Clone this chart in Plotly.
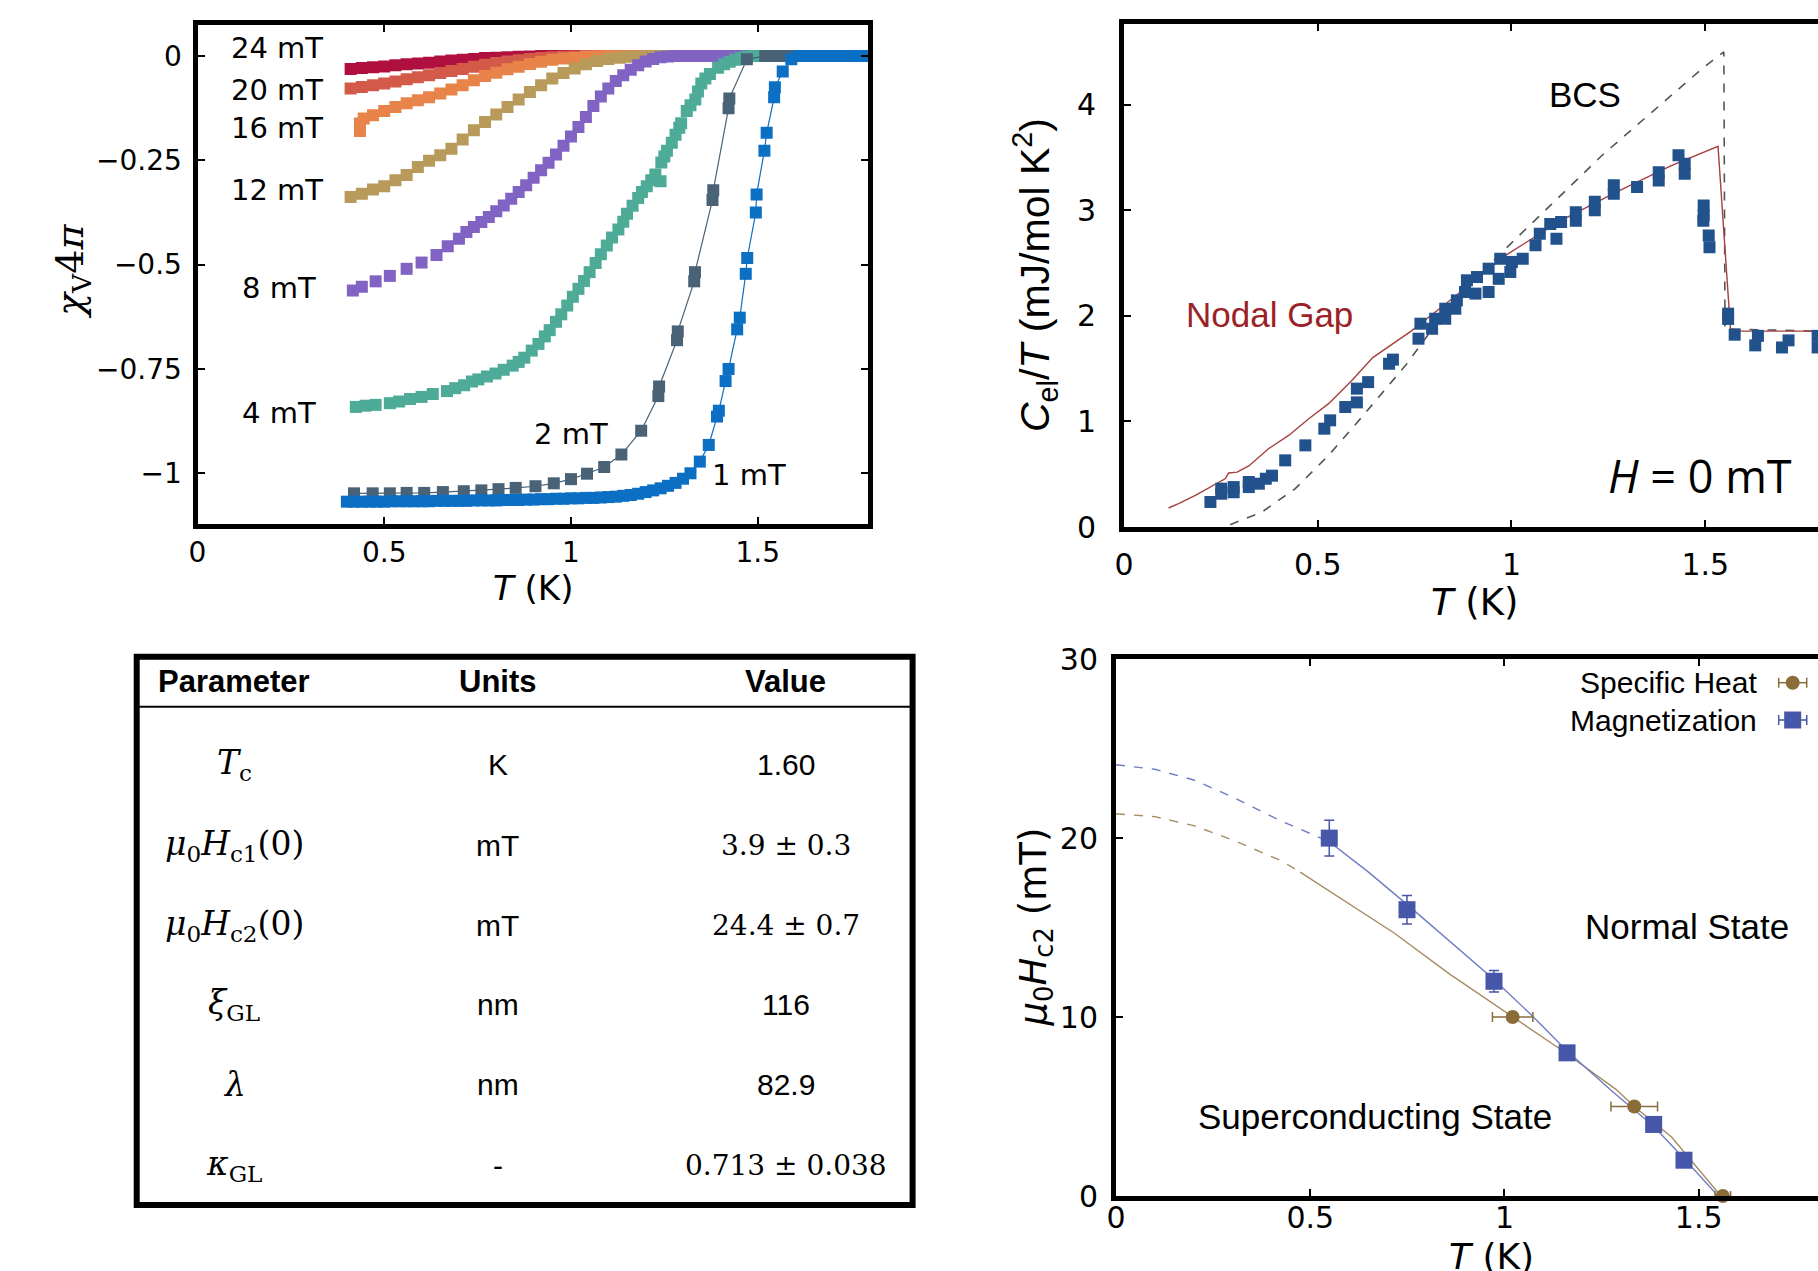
import plotly.graph_objects as go

W, H = 1818, 1271
SANS = "Liberation Sans, Arial, sans-serif"
DEJA = "DejaVu Sans, sans-serif"
SERIF = "DejaVu Serif, serif"


def fx(p):
    """horizontal pixel -> paper fraction"""
    return p / W


def fy(p):
    """vertical pixel (from top) -> paper fraction"""
    return 1 - p / H


# ---------------- (a) volume susceptibility chi_V*4pi vs T ----------------
T_GRID = [0.41, 0.44, 0.47, 0.50, 0.53, 0.56, 0.59, 0.62, 0.65, 0.68, 0.71, 0.74,
          0.77, 0.80, 0.83, 0.86, 0.89, 0.92, 0.95, 0.98, 1.01, 1.04, 1.07, 1.10,
          1.13, 1.16, 1.19, 1.22, 1.25, 1.28, 1.31, 1.34, 1.37, 1.40, 1.43, 1.46,
          1.49, 1.52, 1.55, 1.58, 1.61, 1.64, 1.67, 1.70, 1.73, 1.76, 1.79]

CHI_24 = [-0.031, -0.029, -0.027, -0.025, -0.022, -0.020, -0.018, -0.016, -0.013,
          -0.011, -0.009, -0.007, -0.005, -0.004, -0.003, -0.002, -0.001,
          0.0, 0.0, 0.0, 0.0, 0.0, 0.0, 0.0, 0.0, 0.0, 0.0, 0.0, 0.0, 0.0, 0.0,
          0.0, 0.0, 0.0, 0.0, 0.0, 0.0, 0.0, 0.0, 0.0, 0.0, 0.0, 0.0, 0.0, 0.0,
          0.0, 0.0]

CHI_20 = [-0.078, -0.074, -0.070, -0.066, -0.061, -0.056, -0.051, -0.046, -0.041,
          -0.036, -0.031, -0.026, -0.021, -0.017, -0.013, -0.010, -0.007, -0.005,
          -0.003, -0.002, -0.001,
          0.0, 0.0, 0.0, 0.0, 0.0, 0.0, 0.0, 0.0, 0.0, 0.0, 0.0, 0.0, 0.0, 0.0,
          0.0, 0.0, 0.0, 0.0, 0.0, 0.0, 0.0, 0.0, 0.0, 0.0, 0.0, 0.0]

T_16 = [0.435, 0.435, 0.445, 0.47, 0.50, 0.53, 0.56, 0.59, 0.62, 0.65, 0.68, 0.71,
        0.74, 0.77, 0.80, 0.83, 0.86, 0.89, 0.92, 0.95, 0.98, 1.01, 1.04, 1.07,
        1.10, 1.13, 1.16, 1.19, 1.22, 1.25, 1.28, 1.31, 1.34, 1.37, 1.40, 1.43,
        1.46, 1.49, 1.52, 1.55, 1.58, 1.61, 1.64, 1.67, 1.70, 1.73, 1.76, 1.79]
CHI_16 = [-0.180, -0.162, -0.150, -0.142, -0.132, -0.122, -0.113, -0.106, -0.099,
          -0.090, -0.080, -0.070, -0.058, -0.048, -0.040, -0.032, -0.026, -0.019,
          -0.014, -0.009, -0.006, -0.004, -0.002, -0.001,
          0.0, 0.0, 0.0, 0.0, 0.0, 0.0, 0.0, 0.0, 0.0, 0.0, 0.0, 0.0, 0.0, 0.0,
          0.0, 0.0, 0.0, 0.0, 0.0, 0.0, 0.0, 0.0, 0.0, 0.0]

CHI_12 = [-0.338, -0.330, -0.320, -0.312, -0.298, -0.285, -0.266, -0.251, -0.238,
          -0.222, -0.200, -0.178, -0.158, -0.140, -0.122, -0.104, -0.086, -0.070,
          -0.054, -0.041, -0.030, -0.020, -0.012, -0.007, -0.004, -0.002, -0.001,
          0.0, 0.0, 0.0, 0.0, 0.0, 0.0, 0.0, 0.0, 0.0, 0.0, 0.0, 0.0, 0.0, 0.0,
          0.0, 0.0, 0.0, 0.0, 0.0, 0.0]

T_8 = [0.416, 0.44, 0.477, 0.515, 0.56, 0.60, 0.64, 0.67, 0.70, 0.72, 0.74, 0.76,
       0.78, 0.80, 0.82, 0.84, 0.86, 0.88, 0.90, 0.92, 0.94, 0.96, 0.98, 1.00,
       1.02, 1.04, 1.06, 1.08, 1.10, 1.12, 1.14, 1.16, 1.18, 1.20, 1.22, 1.24,
       1.26, 1.28, 1.31, 1.34, 1.37, 1.40, 1.43, 1.46, 1.49, 1.52, 1.55, 1.58,
       1.61, 1.64, 1.67, 1.70, 1.73, 1.76, 1.79]
CHI_8 = [-0.562, -0.553, -0.540, -0.527, -0.510, -0.495, -0.477, -0.456, -0.438,
         -0.422, -0.410, -0.398, -0.386, -0.372, -0.358, -0.342, -0.326, -0.310,
         -0.292, -0.274, -0.256, -0.236, -0.215, -0.193, -0.170, -0.146, -0.120,
         -0.097, -0.078, -0.060, -0.046, -0.033, -0.022, -0.013, -0.007, -0.003,
         -0.001, 0.0,
         0.0, 0.0, 0.0, 0.0, 0.0, 0.0, 0.0, 0.0, 0.0, 0.0, 0.0, 0.0, 0.0, 0.0,
         0.0, 0.0, 0.0]

T_4 = [0.424, 0.45, 0.477, 0.515, 0.54, 0.569, 0.60, 0.63, 0.668, 0.69, 0.714,
       0.735, 0.752, 0.775, 0.798, 0.82, 0.844, 0.86, 0.875, 0.895, 0.913, 0.93,
       0.943, 0.96, 0.974, 0.99, 1.005, 1.02, 1.035, 1.05, 1.066, 1.08, 1.096,
       1.11, 1.127, 1.14, 1.15, 1.165, 1.18, 1.19, 1.203, 1.215, 1.226, 1.24,
       1.242, 1.25, 1.257, 1.27, 1.28, 1.29, 1.295, 1.31, 1.32, 1.333, 1.34,
       1.349, 1.36, 1.372, 1.394, 1.41, 1.425, 1.44, 1.456, 1.47, 1.486, 1.51,
       1.54, 1.57, 1.60, 1.63, 1.66, 1.69, 1.72, 1.75, 1.78]
CHI_4 = [-0.841, -0.838, -0.836, -0.832, -0.828, -0.822, -0.817, -0.810, -0.803,
         -0.796, -0.789, -0.780, -0.775, -0.768, -0.761, -0.752, -0.742, -0.733,
         -0.723, -0.706, -0.690, -0.672, -0.657, -0.637, -0.619, -0.598, -0.577,
         -0.558, -0.539, -0.518, -0.496, -0.475, -0.454, -0.435, -0.416, -0.397,
         -0.378, -0.359, -0.340, -0.326, -0.312, -0.298, -0.284, -0.300, -0.255,
         -0.241, -0.227, -0.208, -0.189, -0.172, -0.161, -0.132, -0.118, -0.104,
         -0.085, -0.066, -0.054, -0.043, -0.028, -0.020, -0.014, -0.009, -0.005,
         -0.002, 0.0, 0.0, 0.0, 0.0, 0.0, 0.0, 0.0, 0.0, 0.0, 0.0, 0.0]

T_2 = [0.419, 0.469, 0.515, 0.56, 0.607, 0.657, 0.713, 0.760, 0.806, 0.852, 0.905,
       0.954, 1.000, 1.043, 1.089, 1.135, 1.188, 1.234, 1.236, 1.284, 1.286, 1.330,
       1.332, 1.379, 1.381, 1.422, 1.424, 1.471, 1.52, 1.55, 1.58, 1.61, 1.64,
       1.67, 1.70, 1.73, 1.76, 1.79]
CHI_2 = [-1.048, -1.048, -1.048, -1.047, -1.047, -1.045, -1.043, -1.041, -1.038,
         -1.035, -1.031, -1.024, -1.014, -1.001, -0.985, -0.955, -0.898, -0.815,
         -0.792, -0.681, -0.660, -0.540, -0.518, -0.345, -0.322, -0.125, -0.102,
         -0.008, 0.0, 0.0, 0.0, 0.0, 0.0, 0.0, 0.0, 0.0, 0.0, 0.0]

T_1 = [0.40, 0.42, 0.44, 0.46, 0.48, 0.50, 0.52, 0.54, 0.56, 0.58, 0.60, 0.62,
       0.64, 0.66, 0.68, 0.70, 0.72, 0.74, 0.76, 0.78, 0.80, 0.82, 0.84, 0.86,
       0.88, 0.90, 0.92, 0.94, 0.96, 0.98, 1.00, 1.02, 1.04, 1.06, 1.08, 1.10,
       1.12, 1.14, 1.16, 1.18, 1.20, 1.22, 1.24, 1.26, 1.28, 1.30, 1.32, 1.345,
       1.369, 1.391, 1.396, 1.414, 1.422, 1.445, 1.452, 1.468, 1.472, 1.495,
       1.497, 1.518, 1.524, 1.544, 1.546, 1.567, 1.59, 1.61, 1.64, 1.67, 1.70,
       1.73, 1.76, 1.79, 1.80]
CHI_1 = [-1.068, -1.068, -1.068, -1.068, -1.068, -1.068, -1.067, -1.067, -1.067,
         -1.067, -1.067, -1.067, -1.066, -1.066, -1.066, -1.066, -1.066, -1.065,
         -1.065, -1.065, -1.065, -1.064, -1.064, -1.064, -1.063, -1.063, -1.062,
         -1.062, -1.061, -1.061, -1.060, -1.060, -1.059, -1.059, -1.058, -1.057,
         -1.056, -1.054, -1.052, -1.049, -1.045, -1.041, -1.036, -1.030, -1.023,
         -1.013, -1.000, -0.972, -0.932, -0.864, -0.850, -0.779, -0.750, -0.655,
         -0.627, -0.522, -0.484, -0.375, -0.332, -0.227, -0.184, -0.099, -0.075,
         -0.037, -0.008, 0.0, 0.0, 0.0, 0.0, 0.0, 0.0, 0.0, 0.0]

FIELD_LABELS = ["24 mT", "20 mT", "16 mT", "12 mT", "8 mT", "4 mT", "2 mT", "1 mT"]
FIELD_COLORS = ["#b0103f", "#d35a49", "#e8834a", "#b89a5a", "#8063c3", "#4dab98",
                "#4a6276", "#0b6fc4"]

A_XTICKS = [0, 0.5, 1, 1.5]
A_XTEXT = ["0", "0.5", "1", "1.5"]
A_YTICKS = [0, -0.25, -0.5, -0.75, -1]
A_YTEXT = ["0", "\u22120.25", "\u22120.5", "\u22120.75", "\u22121"]

# ---------------- (b) electronic specific heat C_el/T ----------------
CT_T = [0.223, 0.251, 0.251, 0.283, 0.283, 0.322, 0.322, 0.348, 0.366, 0.382,
        0.416, 0.468, 0.517, 0.532, 0.571, 0.601, 0.601, 0.63, 0.684, 0.694,
        0.76, 0.765, 0.795, 0.803, 0.829, 0.829, 0.855, 0.859, 0.88, 0.885,
        0.907, 0.911, 0.941, 0.941, 0.967, 0.971, 0.997, 1.001, 1.029, 1.062,
        1.073, 1.10, 1.116, 1.128, 1.166, 1.166, 1.215, 1.215, 1.264, 1.264,
        1.324, 1.38, 1.38, 1.431, 1.447, 1.447, 1.496, 1.496, 1.495, 1.509,
        1.511, 1.559, 1.559, 1.576, 1.629, 1.636, 1.698, 1.715, 1.79, 1.79]
CT_C = [0.237, 0.315, 0.363, 0.329, 0.378, 0.378, 0.426, 0.410, 0.457, 0.486,
        0.631, 0.773, 0.931, 1.010, 1.136, 1.180, 1.310, 1.372, 1.546, 1.585,
        1.783, 1.925, 1.877, 1.972, 1.972, 2.067, 2.067, 2.146, 2.225, 2.336,
        2.210, 2.367, 2.225, 2.446, 2.350, 2.540, 2.415, 2.510, 2.540, 2.667,
        2.777, 2.870, 2.730, 2.888, 2.900, 2.980, 3.000, 3.080, 3.156, 3.235,
        3.220, 3.280, 3.360, 3.519, 3.440, 3.346, 3.045, 2.950, 2.900, 2.761,
        2.650, 2.020, 1.970, 1.821, 1.720, 1.810, 1.700, 1.767, 1.810, 1.700]

NODAL_T = [0.115, 0.141, 0.184, 0.227, 0.261, 0.270, 0.292, 0.322, 0.373, 0.425,
           0.477, 0.528, 0.588, 0.642, 0.741, 0.841, 0.984, 1.126, 1.269, 1.411,
           1.533, 1.565, 1.580, 1.796]
NODAL_C = [0.180, 0.221, 0.300, 0.388, 0.457, 0.511, 0.520, 0.578, 0.741, 0.867,
           1.025, 1.168, 1.388, 1.604, 1.855, 2.145, 2.570, 2.899, 3.169, 3.420,
           3.604, 1.877, 1.855, 1.855]

BCS_T = [0.274, 0.356, 0.442, 0.528, 0.614, 0.730, 0.841, 0.975, 1.234, 1.492,
         1.548, 1.551, 1.796]
BCS_C = [0.022, 0.142, 0.363, 0.678, 1.042, 1.546, 2.100, 2.600, 3.520, 4.340,
         4.498, 1.875, 1.855]

B_XTICKS = [0, 0.5, 1, 1.5]
B_XTEXT = ["0", "0.5", "1", "1.5"]
B_YTICKS = [0, 1, 2, 3, 4]
B_YTEXT = ["0", "1", "2", "3", "4"]

# ---------------- (d) upper critical field ----------------
MAG_T = [0.549, 0.749, 0.973, 1.161, 1.384, 1.462]
MAG_H = [20.0, 16.0, 12.0, 8.0, 4.0, 2.0]
MAG_ERR = [1.0, 0.8, 0.6, 0.3, 0.25, 0.2]

SH_T = [1.021, 1.334, 1.562]
SH_H = [10.0, 5.0, 0.0]
SH_TERR = [0.052, 0.06, 0.02]

MAG_FIT_DASH_T = [0.0, 0.1, 0.2, 0.3, 0.425, 0.549]
MAG_FIT_DASH_H = [24.1, 23.85, 23.25, 22.3, 20.96, 19.8]
MAG_FIT_T = [0.549, 0.65, 0.749, 0.86, 0.973, 1.07, 1.161, 1.28, 1.384, 1.462, 1.55]
MAG_FIT_H = [19.8, 18.1, 16.3, 14.2, 12.1, 10.1, 8.1, 5.8, 3.9, 2.1, 0.0]

SH_FIT_DASH_T = [0.0, 0.1, 0.2, 0.3, 0.425, 0.474]
SH_FIT_DASH_H = [21.36, 21.2, 20.7, 19.9, 18.74, 18.1]
SH_FIT_T = [0.474, 0.573, 0.716, 0.859, 1.0, 1.144, 1.287, 1.334, 1.43, 1.557]
SH_FIT_H = [18.1, 16.7, 14.7, 12.4, 10.3, 8.2, 5.96, 5.0, 3.3, 0.0]

D_XTICKS = [0, 0.5, 1, 1.5]
D_XTEXT = ["0", "0.5", "1", "1.5"]
D_YTICKS = [0, 10, 20, 30]
D_YTEXT = ["0", "10", "20", "30"]

# ---------------- (c) parameter table ----------------
TABLE_HEADER = ["Parameter", "Units", "Value"]
PARAMS = ["<i>T</i><sub>c</sub>",
          "<i>μ</i><sub>0</sub><i>H</i><sub>c1</sub>(0)",
          "<i>μ</i><sub>0</sub><i>H</i><sub>c2</sub>(0)",
          "<i>ξ</i><sub>GL</sub>",
          "<i>λ</i>",
          "<i>κ</i><sub>GL</sub>"]
UNITS = ["K", "mT", "mT", "nm", "nm", "-"]
VALUES = ["1.60", "3.9 ± 0.3", "24.4 ± 0.7", "116", "82.9", "0.713 ± 0.038"]
VALUE_IS_MATH = [False, True, True, False, False, True]

C_MAG = "#4656a8"
C_SH = "#8a6d38"
C_MAG_LINE = "#6e7cc4"
C_SH_LINE = "#a58c62"

fig = go.Figure()

# panel (a): highest field first so the low-field curves sit on top
fields = [
    (T_GRID, CHI_24), (T_GRID, CHI_20), (T_16, CHI_16), (T_GRID, CHI_12),
    (T_8, CHI_8), (T_4, CHI_4), (T_2, CHI_2), (T_1, CHI_1),
]
for i, (tt, cc) in enumerate(fields):
    with_line = FIELD_LABELS[i] in ("2 mT", "1 mT")
    fig.add_trace(go.Scatter(
        x=tt, y=cc, xaxis="x", yaxis="y",
        mode="lines+markers" if with_line else "markers",
        line=dict(color=FIELD_COLORS[i], width=1.2),
        marker=dict(symbol="square", size=12, color=FIELD_COLORS[i]),
        name=FIELD_LABELS[i], showlegend=False,
    ))

# panel (b)
fig.add_trace(go.Scatter(x=BCS_T, y=BCS_C, xaxis="x2", yaxis="y2", mode="lines",
                         line=dict(color="#555555", width=1.6, dash="dash"),
                         showlegend=False))
fig.add_trace(go.Scatter(x=NODAL_T, y=NODAL_C, xaxis="x2", yaxis="y2", mode="lines",
                         line=dict(color="#a5403f", width=1.4), showlegend=False))
fig.add_trace(go.Scatter(x=CT_T, y=CT_C, xaxis="x2", yaxis="y2", mode="markers",
                         marker=dict(symbol="square", size=12, color="#22528c"),
                         showlegend=False))

# panel (d)
fig.add_trace(go.Scatter(x=SH_FIT_DASH_T, y=SH_FIT_DASH_H, xaxis="x3", yaxis="y3",
                         mode="lines", line=dict(color=C_SH_LINE, width=1.4, dash="dash"),
                         showlegend=False))
fig.add_trace(go.Scatter(x=SH_FIT_T, y=SH_FIT_H, xaxis="x3", yaxis="y3",
                         mode="lines", line=dict(color=C_SH_LINE, width=1.4),
                         showlegend=False))
fig.add_trace(go.Scatter(x=MAG_FIT_DASH_T, y=MAG_FIT_DASH_H, xaxis="x3", yaxis="y3",
                         mode="lines", line=dict(color=C_MAG_LINE, width=1.4, dash="dash"),
                         showlegend=False))
fig.add_trace(go.Scatter(x=MAG_FIT_T, y=MAG_FIT_H, xaxis="x3", yaxis="y3",
                         mode="lines", line=dict(color=C_MAG_LINE, width=1.4),
                         showlegend=False))
fig.add_trace(go.Scatter(x=SH_T, y=SH_H, xaxis="x3", yaxis="y3", mode="markers",
                         marker=dict(symbol="circle", size=14, color=C_SH),
                         error_x=dict(type="data", array=SH_TERR, color=C_SH,
                                      thickness=1.5, width=5),
                         cliponaxis=False, showlegend=False))
fig.add_trace(go.Scatter(x=MAG_T, y=MAG_H, xaxis="x3", yaxis="y3", mode="markers",
                         marker=dict(symbol="square", size=17, color=C_MAG),
                         error_y=dict(type="data", array=MAG_ERR, color=C_MAG,
                                      thickness=1.5, width=5),
                         cliponaxis=False, showlegend=False))


def axis(domain, rng, tickvals, ticktext, size, standoff, mirror, anchor):
    return dict(domain=domain, range=rng, anchor=anchor, tickmode="array",
                tickvals=tickvals, ticktext=ticktext, showline=True,
                linecolor="black", linewidth=5, mirror=mirror, ticks="inside",
                ticklen=7, tickwidth=1.5, tickcolor="black", showgrid=False,
                zeroline=False, ticklabelstandoff=standoff, automargin=False,
                tickfont=dict(family=DEJA, size=size, color="black"))


layout = dict(
    template="none",
    width=W, height=H, margin=dict(l=0, r=0, t=0, b=0, pad=0, autoexpand=False),
    paper_bgcolor="white", plot_bgcolor="white", showlegend=False,
    xaxis=axis([fx(197.5), fx(867.5)], [0, 1.794], A_XTICKS, A_XTEXT, 28, -1,
               "allticks", "y"),
    yaxis=axis([fy(524.2), fy(24.5)], [-1.122, 0.0755], A_YTICKS, A_YTEXT, 28, 5,
               "allticks", "x"),
    xaxis2=axis([fx(1124), 1.0], [0, 1.791], B_XTICKS, B_XTEXT, 30, 7,
                "allticks", "y2"),
    yaxis2=axis([fy(527), fy(24.2)], [0, 4.761], B_YTICKS, B_YTEXT, 30, 17,
                True, "x2"),
    xaxis3=axis([fx(1116), 1.0], [0, 1.807], D_XTICKS, D_XTEXT, 30, -9,
                "allticks", "y3"),
    yaxis3=axis([fy(1196), fy(659.2)], [0, 30], D_YTICKS, D_YTEXT, 30, 7,
                True, "x3"),
)
fig.update_layout(**layout)


def label(text, x, y, size, family=SANS, color="black", xanchor="center", angle=0):
    return dict(text=text, x=fx(x), y=fy(y), xref="paper", yref="paper",
                showarrow=False, xanchor=xanchor, yanchor="middle",
                textangle=angle, font=dict(family=family, size=size, color=color))


ann = []
# panel (a) field labels
for txt, x, y, anchor in [
    ("24 mT", 325, 47.7, "right"), ("20 mT", 325, 90, "right"),
    ("16 mT", 325, 127.7, "right"), ("12 mT", 325, 190, "right"),
    ("8 mT", 318, 288, "right"), ("4 mT", 318, 412.7, "right"),
    ("2 mT", 570.5, 434.5, "center"), ("1 mT", 749, 475, "center"),
]:
    ann.append(label(txt, x, y, 29, DEJA, xanchor=anchor))
ann.append(label("<i>T</i> (K)", 533, 588, 34, DEJA))
ann.append(label("<i>χ</i><sub>V</sub>4<i>π</i>", 72, 272, 38, SERIF, angle=-90))

# panel (b) text
ann.append(label("BCS", 1585, 95, 35, SANS))
ann.append(label("Nodal Gap", 1269.5, 315, 35, SANS, color="#9b2226"))
ann.append(label("<i>H</i> = 0 mT", 1700, 475, 45, "Open Sans, sans-serif"))
ann.append(label("<i>T</i> (K)", 1475, 603, 37, DEJA))
ann.append(label("<i>C</i><sub>el</sub>/<i>T</i> (mJ/mol K<sup>2</sup>)", 1035, 275,
                 41, SANS, angle=-90))

# panel (d) text
ann.append(label("Normal State", 1686.7, 926.7, 35, SANS))
ann.append(label("Superconducting State", 1375, 1116.5, 35, SANS))
ann.append(label("Specific Heat", 1759, 682.7, 30, SANS, xanchor="right"))
ann.append(label("Magnetization", 1759, 720, 30, SANS, xanchor="right"))
ann.append(label("<i>T</i> (K)", 1491, 1256, 36, DEJA))
ann.append(label("<i>μ</i><sub>0</sub><i>H</i><sub>c2</sub> (mT)", 1035, 927.5, 37,
                 DEJA, angle=-90))

# table
COL_X = [234.4, 497.8, 785.5]
ROW_Y = [764, 845, 925, 1004.4, 1084, 1165]
for cx, head in zip(COL_X, TABLE_HEADER):
    ann.append(label("<b>%s</b>" % head, cx, 681.4, 31, SANS))
for ry, p, u, v, m in zip(ROW_Y, PARAMS, UNITS, VALUES, VALUE_IS_MATH):
    ann.append(label(p, COL_X[0], ry, 33, SERIF))
    ann.append(label(u, COL_X[1], ry, 30, SANS))
    ann.append(label(v, COL_X[2], ry, 28 if m else 30, SERIF if m else SANS))

fig.update_layout(annotations=ann)

shapes = [
    dict(type="rect", xref="paper", yref="paper", x0=fx(136.7), x1=fx(912.6),
         y0=fy(1205), y1=fy(656.7), line=dict(color="black", width=6)),
    dict(type="line", xref="paper", yref="paper", x0=fx(139), x1=fx(910),
         y0=fy(706.7), y1=fy(706.7), line=dict(color="black", width=2)),
]
# legend keys for panel (d): symbol with a horizontal error bar
for cy, kind, col, half in [(682.7, "circle", C_SH, 7), (720, "rect", C_MAG, 8.5)]:
    cx = 1792.7
    shapes.append(dict(type="line", xref="paper", yref="paper", x0=fx(cx - 14),
                       x1=fx(cx + 14), y0=fy(cy), y1=fy(cy),
                       line=dict(color=col, width=1.5)))
    for ex in (cx - 14, cx + 14):
        shapes.append(dict(type="line", xref="paper", yref="paper", x0=fx(ex),
                           x1=fx(ex), y0=fy(cy - 5), y1=fy(cy + 5),
                           line=dict(color=col, width=1.5)))
    shapes.append(dict(type=kind, xref="paper", yref="paper", x0=fx(cx - half),
                       x1=fx(cx + half), y0=fy(cy + half), y1=fy(cy - half),
                       fillcolor=col, line=dict(color=col, width=0)))
fig.update_layout(shapes=shapes)

fig.write_html("out.html")
